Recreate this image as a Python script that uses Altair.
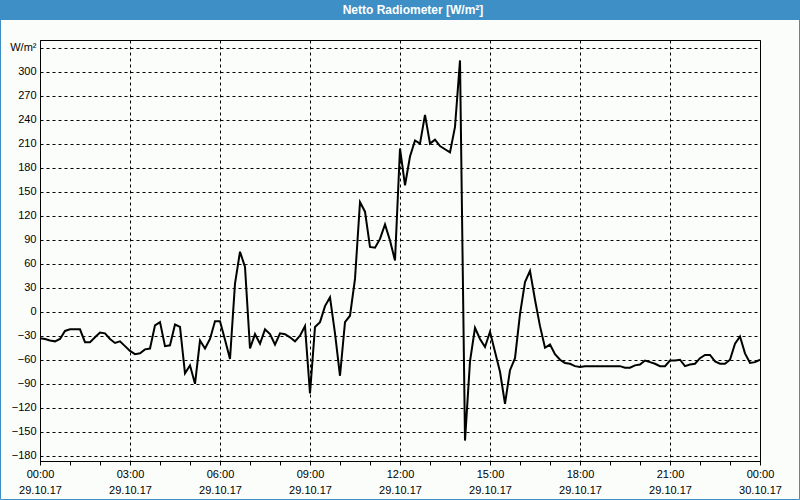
import altair as alt
import pandas as pd

# ---- data (10-minute readings, 29.10.17 00:00 -> 30.10.17 00:00) ----
step_minutes = 10
netto_values = [
    -33, -34, -36, -37, -34, -24, -22, -22, -22, -38,
    -38, -32, -26, -27, -34, -39, -37, -43, -49, -53,
    -52, -47, -46, -17, -13, -43, -42, -16, -19, -77,
    -67, -90, -36, -46, -34, -12, -12, -35, -59, 35,
    75, 56, -46, -28, -40, -22, -28, -41, -27, -28,
    -32, -37, -30, -18, -102, -19, -13, 7, 18, -27,
    -80, -13, -5, 41, 137, 125, 81, 80, 91, 109,
    89, 64, 204, 158, 194, 214, 210, 246, 210, 215,
    207, 203, 199, 231, 314, -161, -62, -20, -34, -44,
    -25, -50, -75, -115, -73, -58, -3, 37, 51, 15,
    -18, -45, -41, -53, -60, -64, -65, -68, -69, -68,
    -68, -68, -68, -68, -68, -68, -68, -70, -70, -67,
    -66, -61, -63, -65, -68, -68, -61, -61, -60, -68,
    -66, -65, -58, -54, -54, -62, -65, -65, -60, -40,
    -31, -52, -64, -63, -60,
]
minutes = [i * step_minutes for i in range(len(netto_values))]

tick_times = ["00:00", "03:00", "06:00", "09:00", "12:00", "15:00", "18:00", "21:00", "00:00"]
tick_dates = ["29.10.17"] * 8 + ["30.10.17"]
y_ticks = list(range(-180, 331, 30))
y_top_label = "W/m²"
title_text = "Netto Radiometer [W/m²]"

df = pd.DataFrame({"minute": minutes, "value": netto_values})

FONT = "Liberation Sans"
BLUE = "#3d8fc6"
BG = "#fbfdfb"

times_js = "[" + ",".join("'%s'" % t for t in tick_times) + "]"
dates_js = "[" + ",".join("'%s'" % d for d in tick_dates) + "]"
x_label_expr = (
    "datum.value % 180 === 0 ? [" + times_js + "[datum.value/180], "
    + dates_js + "[datum.value/180]] : ''"
)
y_label_expr = "datum.value === 330 ? '" + y_top_label + "' : datum.label"

x_axis = alt.Axis(
    values=list(range(0, 1441, 60)),
    title=None,
    grid=True,
    gridColor="black",
    gridDash=[3, 3],
    gridWidth=1,
    gridOpacity={"condition": {"test": "datum.value % 180 === 0", "value": 1}, "value": 0},
    ticks=True,
    tickSize=4,
    tickColor="black",
    domain=True,
    domainColor="black",
    labelExpr=x_label_expr,
    labelFont=FONT,
    labelFontSize=11,
    labelColor="black",
    labelLineHeight=16,
    labelPadding=3,
    labelFlush=False,
    labelOverlap=False,
    labelBound=False,
)

y_axis = alt.Axis(
    values=y_ticks,
    title=None,
    grid=True,
    gridColor="black",
    gridDash=[3, 3],
    gridWidth=1,
    ticks=False,
    domain=True,
    domainColor="black",
    labelExpr=y_label_expr,
    labelFont=FONT,
    labelFontSize=11,
    labelColor="black",
    labelPadding=4,
    labelFlush=False,
    labelOverlap=False,
    labelBound=False,
)

line = alt.Chart(df).mark_line(color="black", strokeWidth=2, strokeJoin="miter").encode(
    x=alt.X("minute:Q", scale=alt.Scale(domain=[0, 1440], nice=False, zero=False), axis=x_axis),
    y=alt.Y("value:Q", scale=alt.Scale(domain=[-186.5, 339.5], nice=False, zero=False), axis=y_axis),
)

title_bar = alt.Chart(pd.DataFrame({"t": [title_text]})).mark_rect(color=BLUE, clip=False).encode(
    x=alt.value(-40), x2=alt.value(760), y=alt.value(-40), y2=alt.value(-20)
)
title_label = alt.Chart(pd.DataFrame({"t": [title_text]})).mark_text(
    color="white", font=FONT, fontSize=12, fontWeight="bold", align="center", baseline="middle", clip=False
).encode(x=alt.value(373), y=alt.value(-30), text="t:N")

border = alt.Chart(pd.DataFrame({"t": [title_text]})).mark_rect(
    fill=None, stroke=BLUE, strokeWidth=1, clip=False
).encode(x=alt.value(-39.5), x2=alt.value(759.5), y=alt.value(-39.5), y2=alt.value(459.5))

chart = alt.layer(line, title_bar, title_label, border).properties(
    width=720,
    height=421,
    background=BG,
    padding={"left": 40, "top": 40, "right": 40, "bottom": 39},
    autosize=alt.AutoSizeParams(type="none"),
).configure_view(stroke="black", strokeWidth=1, fill=BG)

chart.save("out.html", embed_options={"renderer": "svg", "actions": False})
